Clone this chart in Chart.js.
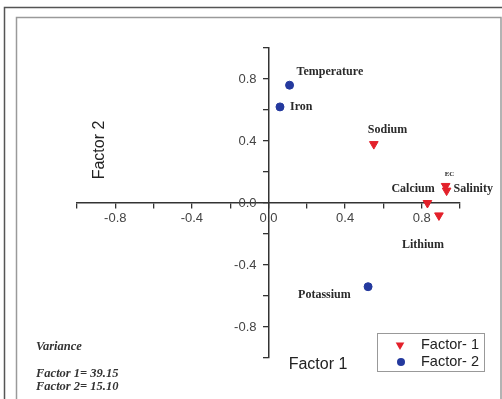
<!DOCTYPE html>
<html>
<head>
<meta charset="utf-8">
<script src="https://cdn.jsdelivr.net/npm/chart.js@4.4.1/dist/chart.umd.min.js"></script>
<style>
  html, body { margin: 0; padding: 0; background: #fff; }
  canvas { display: block; }
</style>
</head>
<body>
<canvas id="factorChart" width="502" height="399"></canvas>
<script>
// loadings
const factor1Names = ['Sodium', 'EC', 'Salinity', 'Calcium', 'Lithium'];
const factor1X = [0.55, 0.925, 0.93, 0.83, 0.89];
const factor1Y = [0.38, 0.11, 0.08, 0.0, -0.08];

const factor2Names = ['Temperature', 'Iron', 'Potassium'];
const factor2X = [0.11, 0.06, 0.52];
const factor2Y = [0.76, 0.62, -0.54];

const seriesLabels = ['Factor- 1', 'Factor- 2'];
const tickLabels = [-0.8, -0.4, 0.0, 0.4, 0.8];   // labelled ticks, minor every 0.2
const axisTitles = ['Factor 1', 'Factor 2'];
const varianceLines = ['Variance', 'Factor 1= 39.15', 'Factor 2= 15.10'];

const RED = '#e3202a';
const BLUE = '#24399e';

// where each name sits relative to its point (dx to text start, dy to text middle)
const labelOffsets = {
    Sodium: [-6, -14], EC: [-1, -12], Salinity: [7, -2], Calcium: [-36, -14], Lithium: [-37, 30],
    Temperature: [7, -13], Iron: [10, 0], Potassium: [-70, 8]
};

// linear scale whose y labels sit a bit left of a centred axis line
class CrossLinearScale extends Chart.LinearScale {
    _computeLabelItems(chartArea) {
        const items = super._computeLabelItems(chartArea);
        if (this.axis === 'y') {
            items.forEach(it => { it.options.translation[0] -= 12; });
        }
        return items;
    }
}
CrossLinearScale.id = 'crossLinear';
CrossLinearScale.defaults = Chart.LinearScale.defaults;
Chart.register(CrossLinearScale);

function toPoints(xs, ys) {
    return xs.map((x, i) => ({ x: x, y: ys[i] }));
}

function tickText(v) {
    const hit = tickLabels.some(t => Math.abs(t - v) < 1e-6);
    return hit ? v.toFixed(1) : '';
}

function triangle(ctx, x, y, r) {   // pointing down, same shape as chart.js triangle rotated 180
    ctx.beginPath();
    ctx.moveTo(x, y + r);
    ctx.lineTo(x - r * 0.866, y - r / 2);
    ctx.lineTo(x + r * 0.866, y - r / 2);
    ctx.closePath();
    ctx.fill();
}

const decorPlugin = {
    id: 'decor',
    beforeDraw(chart) {
        const ctx = chart.ctx;
        ctx.save();
        ctx.fillStyle = '#fff';
        ctx.fillRect(0, 0, chart.width, chart.height);
        // outer frame
        ctx.strokeStyle = '#555';
        ctx.lineWidth = 1.5;
        ctx.strokeRect(4.5, 7.5, 520, 420);
        // inner frame
        ctx.strokeStyle = '#9a9a9a';
        ctx.lineWidth = 1.5;
        ctx.strokeRect(16.5, 17.5, 484.5, 420);
        ctx.restore();
    },
    afterDatasetsDraw(chart) {
        const ctx = chart.ctx;
        ctx.save();
        ctx.fillStyle = '#2a2a2a';
        ctx.textBaseline = 'middle';
        ctx.textAlign = 'left';
        const names = [factor1Names, factor2Names];
        chart.data.datasets.forEach((ds, di) => {
            const meta = chart.getDatasetMeta(di);
            meta.data.forEach((pt, i) => {
                const name = names[di][i];
                const off = labelOffsets[name];
                ctx.font = name === 'EC' ? 'bold 7px "Liberation Serif"' : 'bold 12px "Liberation Serif"';
                ctx.fillText(name, pt.x + off[0], pt.y + off[1]);
            });
        });

        // axis titles
        ctx.fillStyle = '#222';
        ctx.font = '16px "Liberation Sans", Arial';
        ctx.textAlign = 'center';
        ctx.fillText(axisTitles[0], 318, 365);
        ctx.save();
        ctx.translate(100, 150);
        ctx.rotate(-Math.PI / 2);
        ctx.fillText(axisTitles[1], 0, 0);
        ctx.restore();

        // variance note
        ctx.textAlign = 'left';
        ctx.fillStyle = '#333';
        ctx.font = 'italic bold 12.5px "Liberation Serif"';
        ctx.fillText(varianceLines[0], 36, 347);
        ctx.fillText(varianceLines[1], 36, 374);
        ctx.fillText(varianceLines[2], 36, 387);

        // legend box
        ctx.strokeStyle = '#999';
        ctx.lineWidth = 1;
        ctx.strokeRect(377.5, 333.5, 107, 38);
        ctx.fillStyle = RED;
        triangle(ctx, 400, 345, 5);
        ctx.fillStyle = BLUE;
        ctx.beginPath();
        ctx.arc(401, 362, 4, 0, Math.PI * 2);
        ctx.fill();
        ctx.fillStyle = '#222';
        ctx.font = '14.5px "Liberation Sans", Arial';
        ctx.fillText(seriesLabels[0], 421, 345);
        ctx.fillText(seriesLabels[1], 421, 362);
        ctx.restore();
    }
};

const axisFont = { family: '"Liberation Sans", Arial', size: 13 };

const factorChart = new Chart(document.getElementById('factorChart'), {
    type: 'scatter',
    data: {
        datasets: [
            {
                label: seriesLabels[0],
                data: toPoints(factor1X, factor1Y),
                pointStyle: 'triangle',
                rotation: 180,
                radius: 5,
                backgroundColor: RED,
                borderColor: RED,
                borderWidth: 1
            },
            {
                label: seriesLabels[1],
                data: toPoints(factor2X, factor2Y),
                pointStyle: 'circle',
                radius: 4,
                backgroundColor: BLUE,
                borderColor: BLUE,
                borderWidth: 1
            }
        ]
    },
    options: {
        responsive: false,
        animation: false,
        layout: { padding: { left: 77, right: 42, top: 48, bottom: 41 } },
        plugins: {
            legend: { display: false },
            tooltip: { enabled: false }
        },
        scales: {
            x: {
                type: 'crossLinear',
                min: -1, max: 1,
                position: { y: 0 },
                afterFit: s => { s.height = 0; },
                grid: { drawOnChartArea: false, tickLength: 5, color: '#333', lineWidth: 1.3 },
                border: { color: '#333', width: 1.5 },
                ticks: { stepSize: 0.2, autoSkip: false, maxRotation: 0, padding: 3, color: '#444', font: axisFont, callback: tickText }
            },
            y: {
                type: 'crossLinear',
                min: -1, max: 1,
                position: { x: 0 },
                afterFit: s => { s.width = 0; },
                grid: { drawOnChartArea: false, tickLength: 5, color: '#333', lineWidth: 1.3 },
                border: { color: '#333', width: 1.5 },
                ticks: { stepSize: 0.2, autoSkip: false, padding: 3, color: '#444', font: axisFont, callback: tickText }
            }
        }
    },
    plugins: [decorPlugin]
});
</script>
</body>
</html>
